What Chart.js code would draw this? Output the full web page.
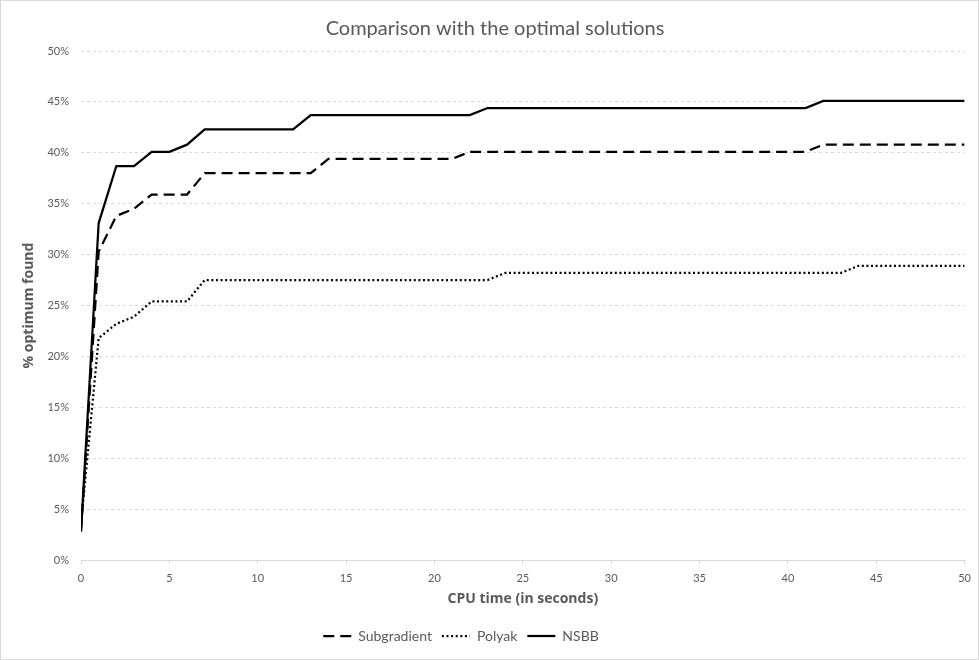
<!DOCTYPE html>
<html>
<head>
<meta charset="utf-8">
<script src="https://cdn.jsdelivr.net/npm/chart.js@4/dist/chart.umd.min.js"></script>
<style>
html,body{margin:0;padding:0;background:#fff;}
#wrap{width:979px;height:660px;position:relative;}
</style>
</head>
<body>
<div id="wrap"><canvas id="c" width="979" height="660"></canvas></div>
<script>
const cpuTime = [0,1,2,3,4,5,6,7,8,9,10,11,12,13,14,15,16,17,18,19,20,21,22,23,24,25,26,27,28,29,30,31,32,33,34,35,36,37,38,39,40,41,42,43,44,45,46,47,48,49,50];
const subgradient = [2.8,30.3,33.8,34.5,35.9,35.9,35.9,38.0,38.0,38.0,38.0,38.0,38.0,38.0,39.4,39.4,39.4,39.4,39.4,39.4,39.4,39.4,40.1,40.1,40.1,40.1,40.1,40.1,40.1,40.1,40.1,40.1,40.1,40.1,40.1,40.1,40.1,40.1,40.1,40.1,40.1,40.1,40.8,40.8,40.8,40.8,40.8,40.8,40.8,40.8,40.8];
const polyak = [3.5,21.8,23.2,23.9,25.4,25.4,25.4,27.5,27.5,27.5,27.5,27.5,27.5,27.5,27.5,27.5,27.5,27.5,27.5,27.5,27.5,27.5,27.5,27.5,28.2,28.2,28.2,28.2,28.2,28.2,28.2,28.2,28.2,28.2,28.2,28.2,28.2,28.2,28.2,28.2,28.2,28.2,28.2,28.2,28.9,28.9,28.9,28.9,28.9,28.9,28.9];
const nsbb = [2.8,33.1,38.7,38.7,40.1,40.1,40.8,42.3,42.3,42.3,42.3,42.3,42.3,43.7,43.7,43.7,43.7,43.7,43.7,43.7,43.7,43.7,43.7,44.4,44.4,44.4,44.4,44.4,44.4,44.4,44.4,44.4,44.4,44.4,44.4,44.4,44.4,44.4,44.4,44.4,44.4,44.4,45.1,45.1,45.1,45.1,45.1,45.1,45.1,45.1,45.1];
const seriesNames = ['Subgradient','Polyak','NSBB'];
const yTicks = [0,5,10,15,20,25,30,35,40,45,50];
const xTicks = [0,5,10,15,20,25,30,35,40,45,50];

const FONT = 'Lato, "Open Sans", sans-serif';
const TFONT = '"Open Sans", Lato, sans-serif';
const GREY = '#595959';

function pts(arr){ return cpuTime.map((t,i)=>({x:t,y:arr[i]})); }

const borderPlugin = {
  id:'border',
  beforeDraw(chart){
    const ctx = chart.ctx;
    ctx.save();
    ctx.fillStyle='#fff';
    ctx.fillRect(0,0,chart.width,chart.height);
    ctx.strokeStyle='#d9d9d9';
    ctx.lineWidth=1;
    ctx.strokeRect(0.5,0.5,chart.width-1,chart.height-1);
    ctx.restore();
  },
  afterLayout(chart){
    const lg = chart.legend;
    if (lg){ lg.left -= 27; lg.right -= 27; }
    const tb = chart.titleBlock;
    if (tb){ tb.left += 7; tb.right += 7; }
  }
};

const common = {pointRadius:0, pointHoverRadius:0, tension:0, fill:false, borderColor:'#000', backgroundColor:'#000', borderWidth:2.25, pointStyle:'line'};

new Chart(document.getElementById('c'), {
  type:'line',
  data:{
    datasets:[
      Object.assign({label:seriesNames[0], data:pts(subgradient), borderDash:[11,6]}, common),
      Object.assign({label:seriesNames[1], data:pts(polyak), borderDash:[2,2.6]}, common),
      Object.assign({label:seriesNames[2], data:pts(nsbb), borderDash:[]}, common)
    ]
  },
  options:{
    responsive:false,
    animation:false,
    layout:{padding:{left:10,right:13,top:0,bottom:7}},
    plugins:{
      title:{display:true, text:'Comparison with the optimal solutions', color:GREY,
        font:{family:FONT,size:20,weight:'normal'}, padding:{top:17,bottom:10}},
      legend:{position:'bottom', labels:{usePointStyle:true, pointStyleWidth:28, color:GREY,
        font:{family:FONT,size:14}, padding:10, boxHeight:12,
        generateLabels(chart){
          const items = Chart.defaults.plugins.legend.labels.generateLabels(chart);
          items.forEach((it,i)=>{
            it.lineDash = chart.data.datasets[i].borderDash;
            it.lineWidth = 2.25;
            it.strokeStyle = '#000';
            it.fillStyle = '#000';
            it.pointStyle = 'line';
          });
          return items;
        }}},
      tooltip:{enabled:false}
    },
    scales:{
      x:{type:'linear', min:0, max:50,
        afterBuildTicks(s){ s.ticks = xTicks.map(v=>({value:v})); },
        afterFit(s){ s.height = 59; },
        border:{display:true,color:'#d9d9d9',width:1},
        grid:{drawOnChartArea:false, drawTicks:true, tickLength:4, color:'#d9d9d9'},
        ticks:{color:GREY, font:{family:FONT,size:11}, padding:8, maxRotation:0},
        title:{display:true, text:'CPU time (in seconds)', color:GREY,
          font:{family:TFONT,size:14,weight:'bold'}, padding:{top:6,bottom:12}}
      },
      y:{min:0, max:50,
        afterBuildTicks(s){ s.ticks = yTicks.map(v=>({value:v})); },
        afterFit(s){ s.width = 71; },
        border:{display:false, dash:[3,3]},
        grid:{color:'#d9d9d9', drawTicks:false, lineWidth:1},
        ticks:{color:GREY, font:{family:FONT,size:11}, padding:12, callback:v=>v+'%'},
        title:{display:true, text:'% optimum found', color:GREY,
          font:{family:TFONT,size:14,weight:'bold'}, padding:{top:11,bottom:4}}
      }
    }
  },
  plugins:[borderPlugin]
});
</script>
</body>
</html>
